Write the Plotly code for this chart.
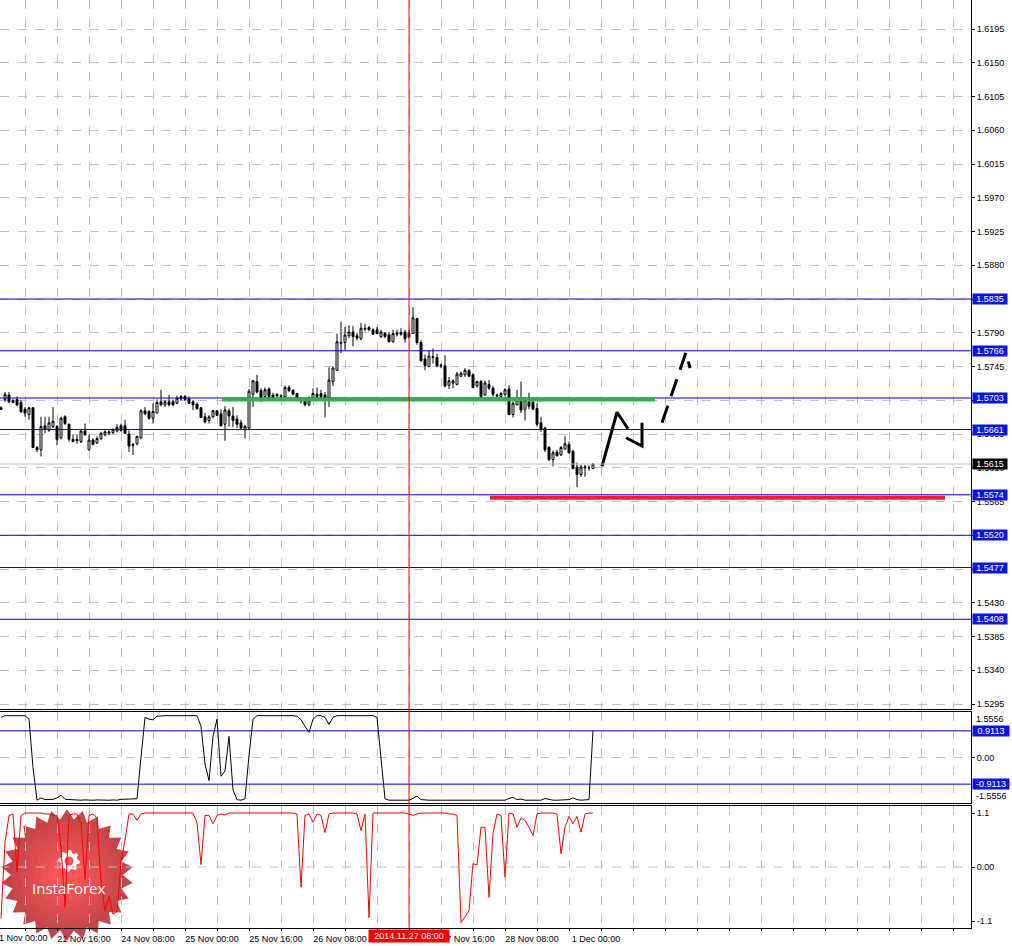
import numpy as np
import plotly.graph_objects as go

# ---------------- data (GBPUSD H1) ----------------
bar_index = list(range(149))  # 0 = 21 Nov 02:00, one bar per trading hour

open_ = [1.5690,1.5701,1.5707,1.5697,1.5701,1.5697,1.5688,1.5681,1.5690,1.5637,
         1.5634,1.5666,1.5660,1.5665,1.5665,1.5650,1.5678,1.5668,1.5648,1.5648,
         1.5645,1.5659,1.5634,1.5647,1.5643,1.5649,1.5654,1.5656,1.5657,1.5659,
         1.5666,1.5666,1.5655,1.5641,1.5642,1.5650,1.5686,1.5685,1.5676,1.5683,
         1.5698,1.5694,1.5698,1.5698,1.5696,1.5702,1.5705,1.5702,1.5698,1.5695,
         1.5690,1.5678,1.5673,1.5678,1.5686,1.5682,1.5668,1.5686,1.5679,1.5675,
         1.5670,1.5661,1.5663,1.5708,1.5725,1.5713,1.5705,1.5715,1.5707,1.5708,
         1.5706,1.5705,1.5717,1.5713,1.5709,1.5702,1.5699,1.5694,1.5701,1.5705,
         1.5709,1.5707,1.5703,1.5725,1.5740,1.5776,1.5777,1.5786,1.5791,1.5786,
         1.5782,1.5796,1.5797,1.5794,1.5794,1.5785,1.5789,1.5787,1.5778,1.5790,
         1.5788,1.5791,1.5790,1.5789,1.5809,1.5777,1.5755,1.5745,1.5758,1.5757,
         1.5747,1.5746,1.5720,1.5723,1.5721,1.5732,1.5734,1.5740,1.5734,1.5719,
         1.5725,1.5707,1.5721,1.5716,1.5707,1.5705,1.5708,1.5715,1.5681,1.5694,
         1.5700,1.5688,1.5698,1.5698,1.5689,1.5670,1.5663,1.5637,1.5621,1.5631,
         1.5627,1.5635,1.5641,1.5632,1.5611,1.5601,1.5610,1.5610,1.5609]
high = [1.5692,1.5711,1.5711,1.5701,1.5705,1.5700,1.5691,1.5691,1.5691,1.5639,
        1.5678,1.5678,1.5678,1.5691,1.5667,1.5678,1.5680,1.5669,1.5654,1.5654,
        1.5660,1.5669,1.5654,1.5649,1.5652,1.5658,1.5660,1.5660,1.5663,1.5668,
        1.5669,1.5674,1.5660,1.5643,1.5652,1.5688,1.5691,1.5687,1.5696,1.5701,
        1.5714,1.5700,1.5707,1.5701,1.5706,1.5707,1.5707,1.5705,1.5700,1.5697,
        1.5691,1.5683,1.5680,1.5687,1.5687,1.5688,1.5692,1.5689,1.5691,1.5680,
        1.5674,1.5667,1.5715,1.5727,1.5734,1.5716,1.5717,1.5717,1.5710,1.5709,
        1.5708,1.5720,1.5720,1.5715,1.5710,1.5704,1.5703,1.5705,1.5716,1.5717,
        1.5714,1.5711,1.5744,1.5745,1.5789,1.5805,1.5798,1.5800,1.5799,1.5790,
        1.5803,1.5802,1.5799,1.5796,1.5798,1.5794,1.5791,1.5791,1.5794,1.5794,
        1.5796,1.5794,1.5794,1.5824,1.5810,1.5780,1.5761,1.5766,1.5769,1.5762,
        1.5749,1.5760,1.5731,1.5728,1.5738,1.5738,1.5743,1.5741,1.5736,1.5726,
        1.5727,1.5726,1.5727,1.5719,1.5709,1.5711,1.5716,1.5720,1.5698,1.5714,
        1.5725,1.5704,1.5710,1.5701,1.5696,1.5678,1.5665,1.5639,1.5633,1.5634,
        1.5639,1.5652,1.5645,1.5634,1.5617,1.5614,1.5614,1.5613,1.5616]
low = [1.5687,1.5698,1.5696,1.5696,1.5692,1.5683,1.5678,1.5674,1.5636,1.5631,
       1.5625,1.5656,1.5658,1.5663,1.5640,1.5648,1.5667,1.5645,1.5644,1.5642,
       1.5643,1.5653,1.5633,1.5640,1.5642,1.5647,1.5652,1.5654,1.5655,1.5657,
       1.5658,1.5655,1.5631,1.5627,1.5640,1.5648,1.5680,1.5674,1.5669,1.5683,
       1.5692,1.5691,1.5692,1.5692,1.5695,1.5700,1.5699,1.5695,1.5687,1.5687,
       1.5676,1.5669,1.5669,1.5676,1.5679,1.5665,1.5646,1.5665,1.5664,1.5663,
       1.5661,1.5649,1.5660,1.5691,1.5709,1.5698,1.5703,1.5702,1.5703,1.5704,
       1.5703,1.5704,1.5711,1.5707,1.5700,1.5696,1.5692,1.5692,1.5700,1.5703,
       1.5700,1.5677,1.5691,1.5719,1.5739,1.5763,1.5767,1.5783,1.5772,1.5780,
       1.5780,1.5792,1.5792,1.5787,1.5788,1.5783,1.5783,1.5777,1.5777,1.5785,
       1.5786,1.5777,1.5783,1.5789,1.5774,1.5751,1.5740,1.5744,1.5749,1.5744,
       1.5743,1.5717,1.5715,1.5716,1.5720,1.5731,1.5731,1.5731,1.5716,1.5717,
       1.5703,1.5706,1.5714,1.5705,1.5704,1.5704,1.5705,1.5680,1.5677,1.5693,
       1.5683,1.5673,1.5688,1.5687,1.5665,1.5658,1.5631,1.5619,1.5612,1.5625,
       1.5626,1.5634,1.5629,1.5608,1.5584,1.5598,1.5598,1.5606,1.5608]
close = [1.5688,1.5708,1.5698,1.5700,1.5694,1.5685,1.5683,1.5690,1.5637,1.5634,
         1.5665,1.5661,1.5670,1.5672,1.5648,1.5676,1.5669,1.5648,1.5645,1.5646,
         1.5659,1.5654,1.5647,1.5641,1.5649,1.5656,1.5658,1.5658,1.5661,1.5664,
         1.5660,1.5656,1.5639,1.5640,1.5652,1.5686,1.5682,1.5676,1.5685,1.5697,
         1.5694,1.5698,1.5694,1.5694,1.5703,1.5705,1.5701,1.5696,1.5694,1.5689,
         1.5677,1.5671,1.5678,1.5686,1.5680,1.5666,1.5687,1.5679,1.5673,1.5668,
         1.5663,1.5665,1.5712,1.5726,1.5711,1.5704,1.5714,1.5705,1.5704,1.5706,
         1.5705,1.5717,1.5713,1.5708,1.5703,1.5699,1.5694,1.5699,1.5709,1.5708,
         1.5705,1.5702,1.5727,1.5743,1.5778,1.5777,1.5787,1.5791,1.5785,1.5783,
         1.5796,1.5795,1.5794,1.5788,1.5789,1.5791,1.5785,1.5778,1.5789,1.5788,
         1.5790,1.5782,1.5784,1.5810,1.5777,1.5753,1.5746,1.5759,1.5757,1.5746,
         1.5746,1.5719,1.5726,1.5726,1.5735,1.5736,1.5740,1.5732,1.5717,1.5725,
         1.5705,1.5723,1.5716,1.5708,1.5706,1.5709,1.5714,1.5681,1.5696,1.5700,
         1.5687,1.5700,1.5692,1.5688,1.5668,1.5661,1.5634,1.5621,1.5630,1.5626,
         1.5637,1.5642,1.5630,1.5609,1.5601,1.5611,1.5611,1.5610,1.5615]

osc1 = [1.37,1.43,1.43,1.43,1.43,1.43,1.43,1.31,-0.34,-1.46,
        -1.38,-1.44,-1.44,-1.43,-1.38,-1.29,-1.43,-1.44,-1.46,-1.46,
        -1.46,-1.45,-1.46,-1.46,-1.45,-1.46,-1.46,-1.46,-1.45,-1.46,
        -1.43,-1.43,-1.43,-1.43,-1.41,0.01,1.37,1.31,1.29,1.41,
        1.43,1.43,1.43,1.43,1.43,1.43,1.43,1.43,1.43,1.43,
        1.07,-0.22,-0.79,0.72,1.31,-0.64,-0.46,0.72,-1.11,-1.44,
        -1.46,-1.41,0.07,1.31,1.43,1.43,1.43,1.43,1.43,1.43,
        1.43,1.45,1.43,1.43,1.41,1.29,1.07,0.86,1.31,1.43,
        1.43,1.37,1.13,1.37,1.43,1.43,1.43,1.43,1.43,1.43,
        1.43,1.43,1.43,1.43,1.37,-0.11,-1.41,-1.46,-1.46,-1.46,
        -1.46,-1.46,-1.46,-1.40,-1.32,-1.44,-1.46,-1.46,-1.46,-1.46,
        -1.46,-1.46,-1.44,-1.46,-1.46,-1.46,-1.46,-1.46,-1.46,-1.46,
        -1.46,-1.46,-1.46,-1.46,-1.46,-1.46,-1.46,-1.40,-1.36,-1.44,
        -1.42,-1.46,-1.46,-1.46,-1.46,-1.46,-1.40,-1.44,-1.46,-1.46,
        -1.46,-1.46,-1.44,-1.38,-1.44,-1.46,-1.46,-1.44,0.92]

osc2 = [-1.05,0.50,1.05,1.08,-0.10,1.05,1.10,1.10,1.10,1.10,
        1.10,1.08,1.08,1.05,1.05,0.40,-0.82,1.05,1.08,1.08,
        0.90,-0.25,1.05,1.08,1.00,-0.30,-0.90,-0.60,-0.96,-0.90,
        0.10,0.55,1.08,1.08,0.95,1.08,1.10,1.10,1.10,1.10,
        1.10,1.10,1.10,1.10,1.10,1.10,1.10,1.10,1.10,0.90,
        0.05,1.05,1.05,0.88,1.05,1.08,1.06,1.10,1.10,1.10,
        1.10,1.10,1.10,1.10,1.10,1.10,1.10,1.10,1.10,1.10,
        1.10,1.10,1.10,1.10,1.08,-0.41,1.05,1.08,0.91,1.08,
        1.05,0.70,1.08,1.10,1.10,1.10,1.10,1.10,1.10,1.08,
        0.74,1.08,-1.03,1.10,1.10,1.10,1.10,1.10,1.10,1.10,
        1.10,1.10,1.08,1.05,1.08,1.10,1.10,1.10,1.10,1.10,
        1.10,1.10,1.08,1.08,1.05,-1.13,-1.02,-0.89,0.07,0.04,
        0.81,0.81,-0.62,0.68,1.08,1.05,-0.21,1.10,1.08,0.81,
        1.00,0.95,0.81,0.64,1.08,1.10,1.10,1.10,1.10,1.08,
        0.27,0.81,1.03,0.88,1.03,0.71,1.08,1.10,1.10]

price_ticks = [1.5295,1.5340,1.5385,1.5430,1.5475,1.5520,1.5565,1.5610,1.5655,1.5700,
               1.5745,1.5790,1.5835,1.5880,1.5925,1.5970,1.6015,1.6060,1.6105,1.6150,1.6195]
blue_levels = [1.5835, 1.5766, 1.5703, 1.5661, 1.5574, 1.5520, 1.5477, 1.5408]
current_price = 1.5615
green_level, green_from, green_to = 1.5701, 55.25, 163.5
red_level, red_from, red_to = 1.5570, 122.25, 236.0
osc1_levels = [0.9113, -0.9113]
osc1_bound = 1.5556
osc2_labels = [1.1, 0.0, -1.1]

time_tick_bars = [-2, 14, 30, 46, 62, 78, 94, 110, 126, 142]
time_tick_text = ["21 Nov 00:00", "21 Nov 16:00", "24 Nov 08:00", "25 Nov 00:00", "25 Nov 16:00",
                  "26 Nov 08:00", "27 Nov 00:00", "27 Nov 16:00", "28 Nov 08:00", "1 Dec 00:00"]
crosshair_bar = 102
crosshair_text = "2014.11.27 08:00"

# hand-drawn forecast arrow (bar index, price)
arrow_solid_x = [150.25, 154.0, 156.75, None, 156.25, 160.25, 160.25]
arrow_solid_y = [1.5612, 1.5684, 1.5662, None, 1.5650, 1.5639, 1.5670]
arrow_dash_x = [165.25, 171.25, 172.25]
arrow_dash_y = [1.5670, 1.5764, 1.5743]

# ---------------- layout geometry ----------------
W, H = 1012, 946
ML, MR, MT, MB = 0, 41, 0, 18
PW, PH = W - ML - MR, H - MT - MB
FONT = "Liberation Sans, Arial, sans-serif"
GRID = "#C0C0C0"
BLUE_LINE = "#0000CC"
BLUE_BOX = "#0A14E6"


def py(p):  # pixel row -> paper y
    return 1 - p / PH


def px(p):
    return p / PW


dom_main = [py(709), 1]
dom_i1 = [py(803), py(712)]
dom_i2 = [0, py(806)]
xrange_ = [-0.25, -0.25 + PW / 4.0]
grid_bars = list(range(-2, 243, 8))

fig = go.Figure()
fig.add_trace(go.Candlestick(
    x=bar_index, open=open_, high=high, low=low, close=close,
    xaxis="x", yaxis="y", whiskerwidth=0,
    increasing=dict(line=dict(color="black", width=1), fillcolor="white"),
    decreasing=dict(line=dict(color="black", width=1), fillcolor="black"),
    showlegend=False, hoverinfo="skip"))
fig.add_trace(go.Scatter(x=arrow_solid_x, y=arrow_solid_y, mode="lines", xaxis="x", yaxis="y",
                         line=dict(color="black", width=3), showlegend=False, hoverinfo="skip"))
fig.add_trace(go.Scatter(x=arrow_dash_x, y=arrow_dash_y, mode="lines", xaxis="x", yaxis="y",
                         line=dict(color="black", width=3, dash="18px,10px"), showlegend=False,
                         hoverinfo="skip"))
fig.add_trace(go.Scatter(x=bar_index, y=osc1, mode="lines", xaxis="x2", yaxis="y2",
                         line=dict(color="black", width=1), showlegend=False, hoverinfo="skip"))
fig.add_trace(go.Scatter(x=bar_index, y=osc2, mode="lines", xaxis="x3", yaxis="y3",
                         line=dict(color="#FF0000", width=1), showlegend=False, hoverinfo="skip"))

xcommon = dict(range=xrange_, tickmode="array", tickvals=grid_bars, showgrid=True, gridcolor=GRID,
               griddash="dash", gridwidth=1, zeroline=False, showline=True, linecolor="black",
               linewidth=1, domain=[0, 1], fixedrange=True)
ycommon = dict(side="right", showline=True, linecolor="black", linewidth=1, zeroline=False,
               ticks="outside", ticklen=3, tickcolor="black", tickfont=dict(family=FONT, size=9, color="black"),
               fixedrange=True)

labels_all = [time_tick_text[time_tick_bars.index(b)] if b in time_tick_bars else "" for b in grid_bars]

fig.update_layout(
    width=W, height=H, margin=dict(l=ML, r=MR, t=MT, b=MB),
    paper_bgcolor="white", plot_bgcolor="white", showlegend=False,
    font=dict(family=FONT, size=9, color="black"),
    xaxis=dict(**xcommon, anchor="y", showticklabels=False, ticks="", rangeslider=dict(visible=False)),
    xaxis2=dict(**xcommon, anchor="y2", matches="x", showticklabels=False, ticks="", mirror=True),
    xaxis3=dict(**xcommon, anchor="y3", matches="x", mirror=True, showticklabels=True,
                ticktext=labels_all, ticks="outside", ticklen=2, tickcolor="black",
                ticklabelshift=27, tickfont=dict(family=FONT, size=9, color="black")),
    yaxis=dict(**ycommon, domain=dom_main, anchor="x", range=[1.62337 - 709 / 7500, 1.62337],
               tickvals=price_ticks, ticktext=[f"{v:.4f}" for v in price_ticks],
               showgrid=True, gridcolor=GRID, griddash="dash"),
    yaxis2=dict(**ycommon, domain=dom_i1, anchor="x2", range=[-osc1_bound, osc1_bound],
                tickvals=[0], ticktext=["0.00"], showgrid=True, gridcolor=GRID, griddash="dash"),
    yaxis3=dict(**ycommon, domain=dom_i2, anchor="x3", range=[-1.2426, 1.2426],
                tickvals=osc2_labels, ticktext=["1.1", "0.00", "-1.1"], showgrid=False),
)

shapes = []
annos = []

# logo (InstaForex starburst) drawn under the data
cx, cy, ro, ri, n = 67, 875, 66, 56, 26
ang = np.linspace(0, 2 * np.pi, 2 * n, endpoint=False) - np.pi / 2
rad = np.where(np.arange(2 * n) % 2 == 0, ro, ri)
pts = [(px(cx + r * np.cos(a)), py(cy + r * np.sin(a))) for r, a in zip(rad, ang)]
path = "M " + " L ".join(f"{a:.5f},{b:.5f}" for a, b in pts) + " Z"
shapes.append(dict(type="path", path=path, xref="paper", yref="paper", fillcolor="#C4464A",
                   line=dict(width=0), layer="below"))
for rr, col in [(54, "#CC484B"), (47, "#D44A4D"), (40, "#DC4C4F"), (33, "#E44F51"),
                (26, "#EC5254"), (19, "#F45556"), (12, "#FA5859")]:
    shapes.append(dict(type="circle", xref="paper", yref="paper", x0=px(cx - rr), x1=px(cx + rr),
                       y0=py(cy + rr), y1=py(cy - rr), fillcolor=col, line=dict(width=0), layer="below"))
gx, gy = 69, 861
gang = np.linspace(0, 2 * np.pi, 32, endpoint=False)
grad = np.where((np.arange(32) // 2) % 2 == 0, 11, 8.5)
gpts = [(px(gx + r * np.cos(a)), py(gy + r * np.sin(a))) for r, a in zip(grad, gang)]
shapes.append(dict(type="path", xref="paper", yref="paper", fillcolor="white", line=dict(width=0),
                   layer="below",
                   path="M " + " L ".join(f"{a:.5f},{b:.5f}" for a, b in gpts) + " Z"))
shapes.append(dict(type="circle", xref="paper", yref="paper", x0=px(gx - 4.5), x1=px(gx + 4.5),
                   y0=py(gy + 4.5), y1=py(gy - 4.5), fillcolor="#F25354", line=dict(width=0), layer="below"))
annos.append(dict(x=px(69), y=py(888), xref="paper", yref="paper", xanchor="center", yanchor="middle",
                  text="InstaForex", showarrow=False,
                  font=dict(family="Open Sans, Liberation Sans, sans-serif", size=15, color="white")))

# main-chart horizontal levels
for lv in blue_levels:
    shapes.append(dict(type="line", xref="paper", yref="y", x0=0, x1=1, y0=lv, y1=lv,
                       line=dict(color=BLUE_LINE, width=1)))
shapes.append(dict(type="line", xref="paper", yref="y", x0=0, x1=1, y0=current_price, y1=current_price,
                   line=dict(color="#C0C0C0", width=1)))
shapes.append(dict(type="line", xref="x", yref="y", x0=green_from, x1=green_to, y0=green_level,
                   y1=green_level, line=dict(color="#2DB34A", width=4)))
shapes.append(dict(type="line", xref="x", yref="y", x0=red_from, x1=red_to, y0=red_level,
                   y1=red_level, line=dict(color="#E8202A", width=4)))
# oscillator levels
for lv in osc1_levels:
    shapes.append(dict(type="line", xref="paper", yref="y2", x0=0, x1=1, y0=lv, y1=lv,
                       line=dict(color=BLUE_LINE, width=1)))
shapes.append(dict(type="line", xref="paper", yref="y3", x0=0, x1=1, y0=0, y1=0,
                   line=dict(color=GRID, width=1, dash="dash"), layer="below"))
# crosshair
shapes.append(dict(type="line", xref="x", yref="paper", x0=crosshair_bar, x1=crosshair_bar, y0=0, y1=1,
                   line=dict(color="#FF0000", width=1)))

box_font = dict(family=FONT, size=9, color="white")
for lv in blue_levels:
    annos.append(dict(x=1, xref="paper", xanchor="left", xshift=1, y=lv, yref="y", text=f"{lv:.4f}",
                      showarrow=False, bgcolor=BLUE_BOX, font=box_font, width=34, borderpad=0))
annos.append(dict(x=1, xref="paper", xanchor="left", xshift=1, y=current_price, yref="y",
                  text=f"{current_price:.4f}", showarrow=False, bgcolor="black", font=box_font,
                  width=34, borderpad=0))
for lv in osc1_levels:
    annos.append(dict(x=1, xref="paper", xanchor="left", xshift=1, y=lv, yref="y2", text=f"{lv:.4f}",
                      showarrow=False, bgcolor=BLUE_BOX, font=box_font, width=36, borderpad=0))
annos.append(dict(x=1, xref="paper", xanchor="left", xshift=3, y=osc1_bound, yref="y2", yanchor="top",
                  text=f"{osc1_bound:.4f}", showarrow=False, font=dict(family=FONT, size=9, color="black")))
annos.append(dict(x=1, xref="paper", xanchor="left", xshift=3, y=-osc1_bound, yref="y2", yanchor="bottom",
                  text=f"{-osc1_bound:.4f}", showarrow=False, font=dict(family=FONT, size=9, color="black")))
# first time label sits partly off the left edge (bar -2 lies left of the visible range)
annos.append(dict(x=0, xref="paper", xanchor="left", xshift=(time_tick_bars[0] + 0.25) * 4 - 1,
                  y=0, yref="paper", yanchor="top", yshift=-3, text=time_tick_text[0], showarrow=False,
                  font=dict(family=FONT, size=9, color="black")))
annos.append(dict(x=crosshair_bar, xref="x3", xanchor="center", y=0, yref="paper", yanchor="top", yshift=-1,
                  text=crosshair_text, showarrow=False, bgcolor="#FF0000", width=78, borderpad=1,
                  font=box_font))

fig.update_layout(shapes=shapes, annotations=annos)
fig.write_html("out.html", config={"displayModeBar": False},
               post_script="document.body.style.margin='0px';document.body.style.overflow='hidden';")
